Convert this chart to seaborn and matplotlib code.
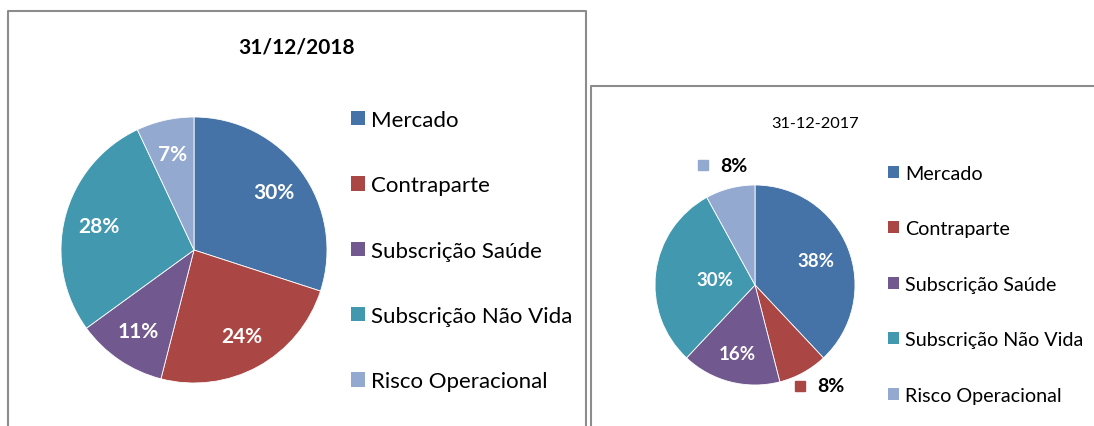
import matplotlib
matplotlib.use("Agg")
import matplotlib.pyplot as plt
import seaborn as sns
import numpy as np
from matplotlib.lines import Line2D
from matplotlib.patches import Patch
from matplotlib.transforms import ScaledTranslation

# ---- data ----
categories = ["Mercado", "Contraparte", "Subscrição Saúde", "Subscrição Não Vida", "Risco Operacional"]
values_2018 = [30, 24, 11, 28, 7]
values_2017 = [38, 8, 16, 30, 8]
title_2018 = "31/12/2018"
title_2017 = "31-12-2017"
colors = ["#4572A7", "#AA4643", "#71588F", "#4198AF", "#93A9CF"]

sns.set_theme(style="white")
plt.rcParams['font.family'] = ['Lato', 'DejaVu Sans']
plt.rcParams['text.color'] = 'black'
palette = sns.color_palette(colors)

W, H = 1094, 427
fig = plt.figure(figsize=(W / 100, H / 100), dpi=100)
fig.patch.set_facecolor("white")


def fx(x):
    return x / W


def fy(y):
    return 1 - y / H


def box(x0, y0, x1, y1):
    return [fx(x0), fy(y1), fx(x1) - fx(x0), fy(y0) - fy(y1)]


# panel borders
border = "#8c8c8c"
fig.add_artist(Line2D([fx(8), fx(8), fx(586), fx(586)], [fy(430), fy(12), fy(12), fy(430)],
                      color=border, lw=1.5))
fig.add_artist(Line2D([fx(591), fx(591), fx(1100)], [fy(430), fy(87), fy(87)],
                      color=border, lw=1.5))


def draw_pie(rect, values):
    ax = fig.add_axes(rect)
    wedges, _ = ax.pie(values, colors=palette, startangle=90, counterclock=False,
                       wedgeprops=dict(linewidth=0.6, edgecolor="white"))
    ax.set_xlim(-1, 1)
    ax.set_ylim(-1, 1)
    ax.set_axis_off()
    return ax, wedges


# ---- 2018 ----
ax1, w1 = draw_pie(box(61, 118, 327, 384), values_2018)
for w, v in zip(w1, values_2018):
    t = np.deg2rad((w.theta1 + w.theta2) / 2)
    ax1.text(0.74 * np.cos(t), 0.74 * np.sin(t), f"{v}%", ha="center", va="center",
             color="white", fontweight="bold", fontsize=15)

fig.text(fx(297), fy(47), title_2018, ha="center", va="center", fontweight="bold", fontsize=15)
leg1 = fig.legend(handles=[Patch(facecolor=c, edgecolor="none") for c in palette], labels=categories,
                  loc="upper left", bbox_to_anchor=(fx(351), fy(111)), frameon=False, fontsize=16,
                  handlelength=0.63, handleheight=0.63, handletextpad=0.28, labelspacing=2.04,
                  borderaxespad=0, borderpad=0)
for txt in leg1.get_texts():
    txt.set_color("black")

# ---- 2017 ----
ax2, w2 = draw_pie(box(655, 186, 855, 386), values_2017)
inside_r = [0.66, None, 0.71, 0.40, None]
outside_off = {1: (-3, -13), 4: (-27, 23)}
for i, (w, v) in enumerate(zip(w2, values_2017)):
    t = np.deg2rad((w.theta1 + w.theta2) / 2)
    if inside_r[i] is not None:
        r = inside_r[i]
        ax2.text(r * np.cos(t), r * np.sin(t), f"{v}%", ha="center", va="center",
                 color="white", fontweight="bold", fontsize=13.5)
    else:
        dx, dy = outside_off[i]
        ax2.plot([np.cos(t)], [np.sin(t)], marker="s", markersize=7, color=palette[i],
                 linestyle="none", clip_on=False,
                 transform=ax2.transData + ScaledTranslation(dx / 100, dy / 100, fig.dpi_scale_trans))
        ax2.annotate(f"{v}%", xy=(np.cos(t), np.sin(t)), xytext=(dx * 0.72 + 12.5, dy * 0.72),
                     textcoords="offset points", ha="left", va="center",
                     fontweight="bold", fontsize=14, color="black", annotation_clip=False)

fig.text(fx(815), fy(124), title_2017, ha="center", va="center", fontsize=11.8)
leg2 = fig.legend(handles=[Patch(facecolor=c, edgecolor="none") for c in palette], labels=categories,
                  loc="upper left", bbox_to_anchor=(fx(888), fy(166)), frameon=False, fontsize=14.2,
                  handlelength=0.56, handleheight=0.56, handletextpad=0.3, labelspacing=1.95,
                  borderaxespad=0, borderpad=0)
for txt in leg2.get_texts():
    txt.set_color("black")

fig.savefig("out.png", dpi=100, facecolor="white")
